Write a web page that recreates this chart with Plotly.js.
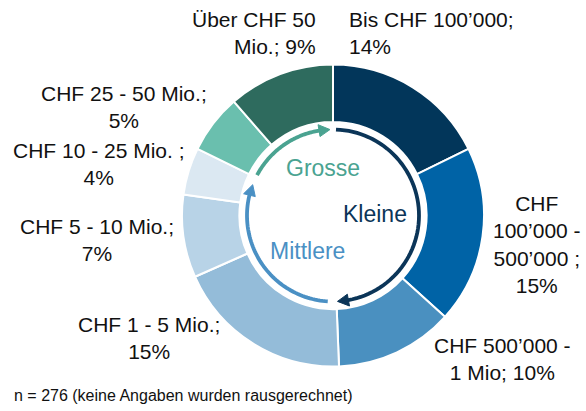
<!DOCTYPE html>
<html><head><meta charset="utf-8">
<script src="https://cdn.plot.ly/plotly-3.0.1.min.js"></script>
<style>html,body{margin:0;padding:0;background:#fff}#chart{width:586px;height:411px}</style>
</head><body><div id="chart"></div>
<script>
// ---- data ----
const categories = ["Bis CHF 100’000", "CHF 100’000 - 500’000", "CHF 500’000 - 1 Mio", "CHF 1 - 5 Mio.", "CHF 5 - 10 Mio.", "CHF 10 - 25 Mio.", "CHF 25 - 50 Mio.", "Über CHF 50 Mio."];
const values = [14, 15, 10, 15, 7, 4, 5, 9];
const labelTexts = ["Bis CHF 100’000;<br>", "CHF<br>100’000 -<br>500’000 ;<br>", "CHF 500’000 -<br>1 Mio; ", "CHF 1 - 5 Mio.;<br>", "CHF 5 - 10 Mio.;<br>", "CHF 10 - 25 Mio. ;<br>", "CHF 25 - 50 Mio.;<br>", "Über CHF 50<br>Mio.; "];
const colors = ["#02365a", "#0063a6", "#4a90c0", "#94bcd9", "#b8d3e7", "#dbe8f2", "#6abfae", "#2e6b5e"];
const groups = ["Kleine", "Mittlere", "Grosse"];
const groupColors = ["#0b3558", "#4a90c4", "#4aa391"];
const footnote = "n = 276 (keine Angaben wurden rausgerechnet)";

// ---- layout helpers ----
const W = 586, H = 411;
const cx = 333, cy = 215.5, R = 151, hole = 0.62;
const px = x => x / W, py = y => 1 - y / H;

// label placement (pixel centre, anchor)
const labelPos = [
  {x: 347, y: 33, xa: "left", al: "left"},
  {x: 537, y: 244, xa: "center", al: "center"},
  {x: 502, y: 359, xa: "center", al: "center"},
  {x: 149, y: 338, xa: "center", al: "center"},
  {x: 97, y: 240, xa: "center", al: "center"},
  {x: 99, y: 164, xa: "center", al: "center"},
  {x: 124, y: 107, xa: "center", al: "center"},
  {x: 318, y: 33, xa: "right", al: "right"}
];
// inner arcs: start angle, tip angle (deg, clockwise from top)
const arcs = [
  {a0: 2, a1: 177, r: 86},
  {a0: 183.5, a1: 291, r: 86},
  {a0: 298, a1: 358, r: 86}
];
const groupTextPos = [{x: 375, y: 214}, {x: 307, y: 251}, {x: 323, y: 168}];

function pt(r, deg) {
  const t = deg * Math.PI / 180;
  return [cx + r * Math.sin(t), cy - r * Math.cos(t)];
}
const shapes = [];
arcs.forEach((a, i) => {
  const L = 11, w = 6;
  const aEnd = a.a1 - (L * 0.6 / a.r) * 180 / Math.PI;
  let d = "";
  const n = 60;
  for (let k = 0; k <= n; k++) {
    const ang = a.a0 + (aEnd - a.a0) * k / n;
    const p = pt(a.r, ang);
    d += (k === 0 ? "M" : "L") + px(p[0]).toFixed(5) + "," + py(p[1]).toFixed(5);
  }
  shapes.push({type: "path", xref: "paper", yref: "paper", path: d,
    line: {color: groupColors[i], width: 3.8}});
  const baseAng = a.a1 - (L / a.r) * 180 / Math.PI;
  const tip = pt(a.r, a.a1), b1 = pt(a.r + w, baseAng), b2 = pt(a.r - w, baseAng);
  const tri = "M" + px(tip[0]) + "," + py(tip[1]) + "L" + px(b1[0]) + "," + py(b1[1]) + "L" + px(b2[0]) + "," + py(b2[1]) + "Z";
  shapes.push({type: "path", xref: "paper", yref: "paper", path: tri,
    fillcolor: groupColors[i], line: {color: groupColors[i], width: 1}});
});

const annotations = [];
categories.forEach((c, i) => {
  const p = labelPos[i];
  annotations.push({xref: "paper", yref: "paper", x: px(p.x), y: py(p.y),
    xanchor: p.xa, yanchor: "middle", align: p.al, showarrow: false,
    text: labelTexts[i] + values[i] + "%",
    font: {family: "Liberation Sans, Arial, sans-serif", size: 21, color: "#111"}});
});
groups.forEach((g, i) => {
  const p = groupTextPos[i];
  annotations.push({xref: "paper", yref: "paper", x: px(p.x), y: py(p.y),
    xanchor: "center", yanchor: "middle", showarrow: false, text: g,
    font: {family: "Liberation Sans, Arial, sans-serif", size: 23, color: groupColors[i]}});
});
annotations.push({xref: "paper", yref: "paper", x: px(12), y: py(395),
  xanchor: "left", yanchor: "middle", showarrow: false, text: footnote,
  font: {family: "Liberation Sans, Arial, sans-serif", size: 16, color: "#111"}});

const trace = {
  type: "pie", labels: categories, values: values, hole: hole,
  sort: false, direction: "clockwise", rotation: 0,
  marker: {colors: colors, line: {color: "#ffffff", width: 2}},
  textinfo: "none", hoverinfo: "label+percent", showlegend: false,
  domain: {x: [px(cx - R), px(cx + R)], y: [py(cy + R), py(cy - R)]}
};

Plotly.newPlot("chart", [trace], {
  width: W, height: H, margin: {l: 0, r: 0, t: 0, b: 0},
  paper_bgcolor: "#ffffff", showlegend: false,
  shapes: shapes, annotations: annotations
}, {displayModeBar: false, staticPlot: true});
</script></body></html>
